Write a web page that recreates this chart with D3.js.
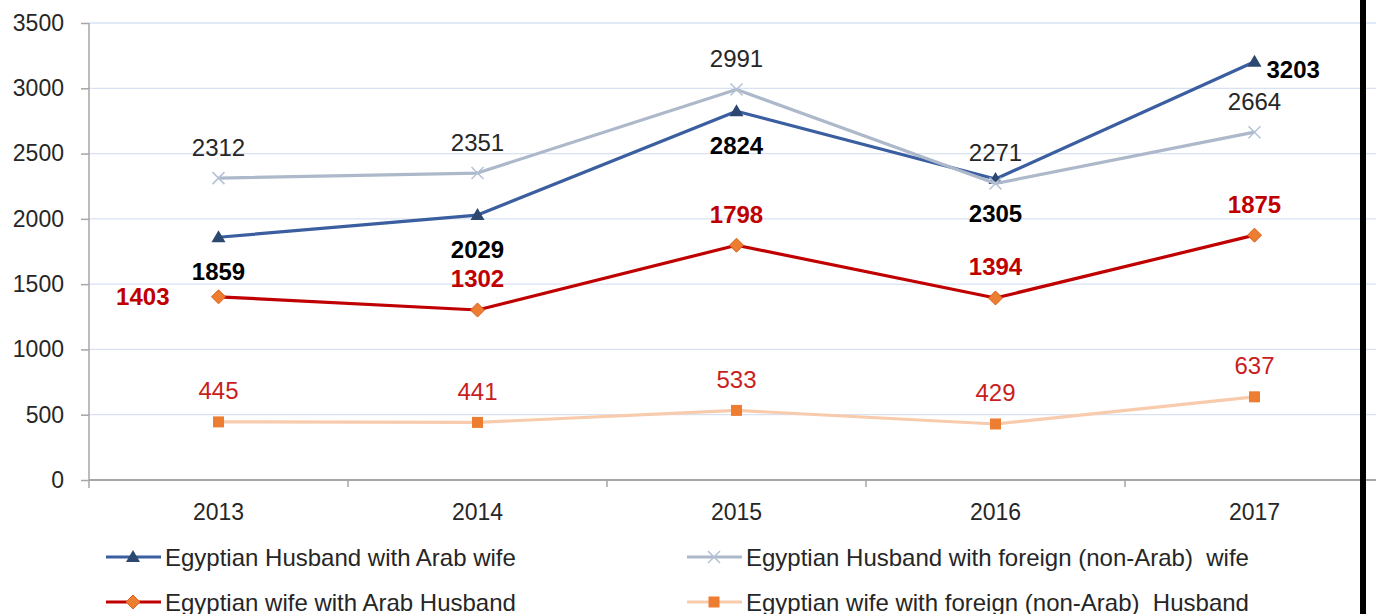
<!DOCTYPE html>
<html>
<head>
<meta charset="utf-8">
<script src="https://cdn.jsdelivr.net/npm/d3@7"></script>
<style>
  html, body { margin: 0; padding: 0; background: #fff; }
  svg { display: block; font-family: "Liberation Sans", Arial, sans-serif; }
  svg text { white-space: pre; }
</style>
</head>
<body>
<div id="chart"></div>
<script>
const years = ["2013", "2014", "2015", "2016", "2017"];
const yTicks = [0, 500, 1000, 1500, 2000, 2500, 3000, 3500];

const husbandArabWife = [1859, 2029, 2824, 2305, 3203];
const husbandForeignWife = [2312, 2351, 2991, 2271, 2664];
const wifeArabHusband = [1403, 1302, 1798, 1394, 1875];
const wifeForeignHusband = [445, 441, 533, 429, 637];

const seriesNames = [
    "Egyptian Husband with Arab wife",
    "Egyptian Husband with foreign (non-Arab)  wife",
    "Egyptian wife with Arab Husband",
    "Egyptian wife with foreign (non-Arab)  Husband"
];

const width = 1376, height = 614;
const margin = { top: 23, left: 89, bottom: 134 };
const bandWidth = 259;

const svg = d3.select("#chart").append("svg")
    .attr("width", width)
    .attr("height", height);

const x = d3.scaleBand()
    .domain(years)
    .range([margin.left, margin.left + bandWidth * years.length])
    .padding(0);

const y = d3.scaleLinear()
    .domain([0, 3500])
    .range([height - margin.bottom, margin.top]);

const cx = d => x(d) + x.bandwidth() / 2;

// gridlines
svg.append("g")
    .selectAll("line")
    .data(yTicks.filter(t => t > 0))
    .join("line")
    .attr("x1", margin.left).attr("x2", width)
    .attr("y1", d => y(d)).attr("y2", d => y(d))
    .attr("stroke", "#d9e2f3")
    .attr("stroke-width", 1.3);

// y axis
const yAxis = svg.append("g")
    .attr("transform", `translate(${margin.left},0)`)
    .call(d3.axisLeft(y).tickValues(yTicks).tickSize(8).tickPadding(17).tickFormat(d3.format("d")));
yAxis.select(".domain").attr("stroke", "#a6a6a6").attr("stroke-width", 1.5)
    .attr("d", `M0,${y(3500)}V${y(0) + 8}`);
yAxis.selectAll(".tick line").attr("stroke", "#a6a6a6").attr("stroke-width", 1.5);
yAxis.selectAll(".tick text")
    .attr("font-size", 23).attr("fill", "#262626")
    .attr("font-family", "Liberation Sans, Arial, sans-serif");

// x axis
const xg = svg.append("g").attr("transform", `translate(0,${y(0)})`);
xg.append("line")
    .attr("x1", margin.left).attr("x2", width)
    .attr("stroke", "#a6a6a6").attr("stroke-width", 1.8);
xg.selectAll(".xtick")
    .data(years.slice(1))
    .join("line")
    .attr("x1", d => x(d)).attr("x2", d => x(d))
    .attr("y1", 0).attr("y2", 7)
    .attr("stroke", "#a6a6a6").attr("stroke-width", 1.5);
xg.selectAll(".xlabel")
    .data(years)
    .join("text")
    .attr("x", d => cx(d))
    .attr("y", 40)
    .attr("text-anchor", "middle")
    .attr("font-size", 23)
    .attr("fill", "#262626")
    .text(d => d);

// symbols
function drawMarker(g, type, px, py) {
    if (type === "triangle") {
        g.append("path")
            .attr("d", `M${px},${py - 7}L${px + 7},${py + 5}L${px - 7},${py + 5}Z`)
            .attr("fill", "#2c4770");
    } else if (type === "cross") {
        g.append("path")
            .attr("d", `M${px - 6},${py - 6}L${px + 6},${py + 6}M${px - 6},${py + 6}L${px + 6},${py - 6}`)
            .attr("stroke", "#b4c1d6").attr("stroke-width", 1.5).attr("fill", "none");
    } else if (type === "diamond") {
        g.append("path")
            .attr("d", `M${px},${py - 7}L${px + 7},${py}L${px},${py + 7}L${px - 7},${py}Z`)
            .attr("fill", "#ed7d31").attr("stroke", "#d95f1a").attr("stroke-width", 1);
    } else if (type === "square") {
        g.append("rect")
            .attr("x", px - 5.5).attr("y", py - 5.5)
            .attr("width", 11).attr("height", 11)
            .attr("fill", "#ed7d31");
    }
}

const series = [
    { name: seriesNames[0], values: husbandArabWife, line: "#3a5e9f", marker: "triangle",
      labelColor: "#000", bold: true, pos: ["below", "below", "below", "below", "right"] },
    { name: seriesNames[1], values: husbandForeignWife, line: "#adb9ca", marker: "cross",
      labelColor: "#262626", bold: false, pos: ["above", "above", "above", "above", "above"] },
    { name: seriesNames[2], values: wifeArabHusband, line: "#c00000", marker: "diamond",
      labelColor: "#c00000", bold: true, pos: ["left", "above", "above", "above", "above"] },
    { name: seriesNames[3], values: wifeForeignHusband, line: "#f8cbad", marker: "square",
      labelColor: "#c81e1e", bold: false, pos: ["above", "above", "above", "above", "above"] }
];

const line = d3.line()
    .x((d, i) => cx(years[i]))
    .y(d => y(d));

series.forEach(s => {
    const g = svg.append("g");
    g.append("path")
        .datum(s.values)
        .attr("d", line)
        .attr("fill", "none")
        .attr("stroke", s.line)
        .attr("stroke-width", 3.2)
        .attr("stroke-linejoin", "round");
    s.values.forEach((v, i) => drawMarker(g, s.marker, cx(years[i]), y(v)));
});

// data labels
series.forEach(s => {
    const g = svg.append("g");
    s.values.forEach((v, i) => {
        const px = cx(years[i]), py = y(v);
        const t = g.append("text")
            .attr("font-size", 24)
            .attr("font-weight", s.bold ? "bold" : "normal")
            .attr("fill", s.labelColor)
            .attr("dominant-baseline", "central")
            .text(v);
        const p = s.pos[i];
        if (p === "above") t.attr("x", px).attr("y", py - 31).attr("text-anchor", "middle");
        else if (p === "below") t.attr("x", px).attr("y", py + 34).attr("text-anchor", "middle");
        else if (p === "right") t.attr("x", px + 12).attr("y", py + 8).attr("text-anchor", "start");
        else if (p === "left") t.attr("x", px - 49).attr("y", py).attr("text-anchor", "end");
    });
});

// legend
const legendPos = [[106, 557], [687, 557], [106, 602], [687, 602]];
series.forEach((s, i) => {
    const [lx, ly] = legendPos[i];
    const g = svg.append("g");
    g.append("line")
        .attr("x1", lx).attr("x2", lx + 55)
        .attr("y1", ly).attr("y2", ly)
        .attr("stroke", s.line).attr("stroke-width", 3.2);
    drawMarker(g, s.marker, lx + 27, ly);
    g.append("text")
        .attr("x", lx + 59).attr("y", ly)
        .attr("dominant-baseline", "central")
        .attr("font-size", 24)
        .attr("fill", "#262626")
        .text(s.name);
});

// black vertical border on the right edge
svg.append("rect")
    .attr("x", 1360).attr("y", 0)
    .attr("width", 6).attr("height", height)
    .attr("fill", "#000");
</script>
</body>
</html>
